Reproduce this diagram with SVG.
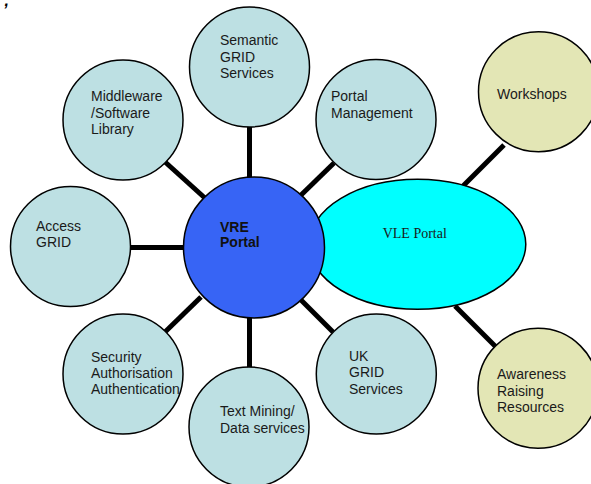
<svg xmlns="http://www.w3.org/2000/svg" width="591" height="484" viewBox="0 0 591 484">
<style>
.c{fill:#bde0e3;stroke:#000;stroke-width:1.5}
.y{fill:#e3e6b5;stroke:#000;stroke-width:1.5}
.t{font-family:"Liberation Sans",Arial,sans-serif;font-size:14px;fill:#1a1a1a}
.e{stroke:#000;stroke-width:5;fill:none}
</style>
<rect width="591" height="484" fill="#fff"/>
<text x="4.5" y="5.5" style="font-family:'Liberation Sans',Arial,sans-serif;font-size:16px;font-weight:bold;font-style:italic;fill:#000">,</text>
<g id="connectors">
<line class="e" x1="249.5" y1="126" x2="249.5" y2="180"/>
<line class="e" x1="164" y1="161" x2="206" y2="199"/>
<line class="e" x1="334" y1="163" x2="298" y2="198"/>
<line class="e" x1="129" y1="247.5" x2="186" y2="247.5"/>
<line class="e" x1="165" y1="332" x2="201" y2="297"/>
<line class="e" x1="249.5" y1="315" x2="249.5" y2="368"/>
<line class="e" x1="333" y1="332" x2="300" y2="299"/>
<line class="e" x1="463" y1="186" x2="504" y2="145"/>
<line class="e" x1="455" y1="306" x2="497" y2="348"/>
</g>
<g id="semantic">
<circle class="c" cx="249.5" cy="67" r="60"/>
<text class="t" x="220" y="45">Semantic</text>
<text class="t" x="220" y="61.5">GRID</text>
<text class="t" x="220" y="77.5">Services</text>
</g>
<g id="middleware">
<circle class="c" cx="123" cy="120" r="60"/>
<text class="t" x="91" y="101">Middleware</text>
<text class="t" x="91" y="117.5">/Software</text>
<text class="t" x="91" y="133.5">Library</text>
</g>
<g id="portalmgmt">
<circle class="c" cx="376" cy="119.5" r="60"/>
<text class="t" x="331" y="101">Portal</text>
<text class="t" x="331" y="117.5">Management</text>
</g>
<g id="access">
<circle class="c" cx="70.5" cy="246.5" r="60"/>
<text class="t" x="36" y="231">Access</text>
<text class="t" x="36" y="247">GRID</text>
</g>
<g id="security">
<circle class="c" cx="123" cy="374" r="60"/>
<text class="t" x="91" y="361.5">Security</text>
<text class="t" x="91" y="377.5">Authorisation</text>
<text class="t" x="91" y="393.5">Authentication</text>
</g>
<g id="textmining">
<circle class="c" cx="249" cy="427" r="60"/>
<text class="t" x="220" y="416">Text Mining/</text>
<text class="t" x="220" y="432.5">Data services</text>
</g>
<g id="ukgrid">
<circle class="c" cx="376.3" cy="374" r="60"/>
<text class="t" x="349" y="360.5">UK</text>
<text class="t" x="349" y="377">GRID</text>
<text class="t" x="349" y="393.5">Services</text>
</g>
<g id="workshops">
<circle class="y" cx="538.5" cy="91.7" r="60"/>
<text class="t" x="497" y="99">Workshops</text>
</g>
<g id="awareness">
<circle class="y" cx="538" cy="388.3" r="60"/>
<text class="t" x="497" y="379">Awareness</text>
<text class="t" x="497" y="395.5">Raising</text>
<text class="t" x="497" y="411.5">Resources</text>
</g>
<g id="vle">
<ellipse cx="417.5" cy="244.3" rx="108.3" ry="65" fill="#00ffff" stroke="#000" stroke-width="1.5"/>
<text x="382.7" y="238.3" style="font-family:'Liberation Serif','Times New Roman',serif;font-size:14px;fill:#1a1a1a">VLE Portal</text>
</g>
<g id="vre">
<circle cx="254" cy="247.5" r="70.5" fill="#3764f5" stroke="#000" stroke-width="1.5"/>
<text class="t" x="220" y="231.7" style="font-weight:bold;fill:#111">VRE</text>
<text class="t" x="220" y="246.7" style="font-weight:bold;fill:#111">Portal</text>
</g>
</svg>
